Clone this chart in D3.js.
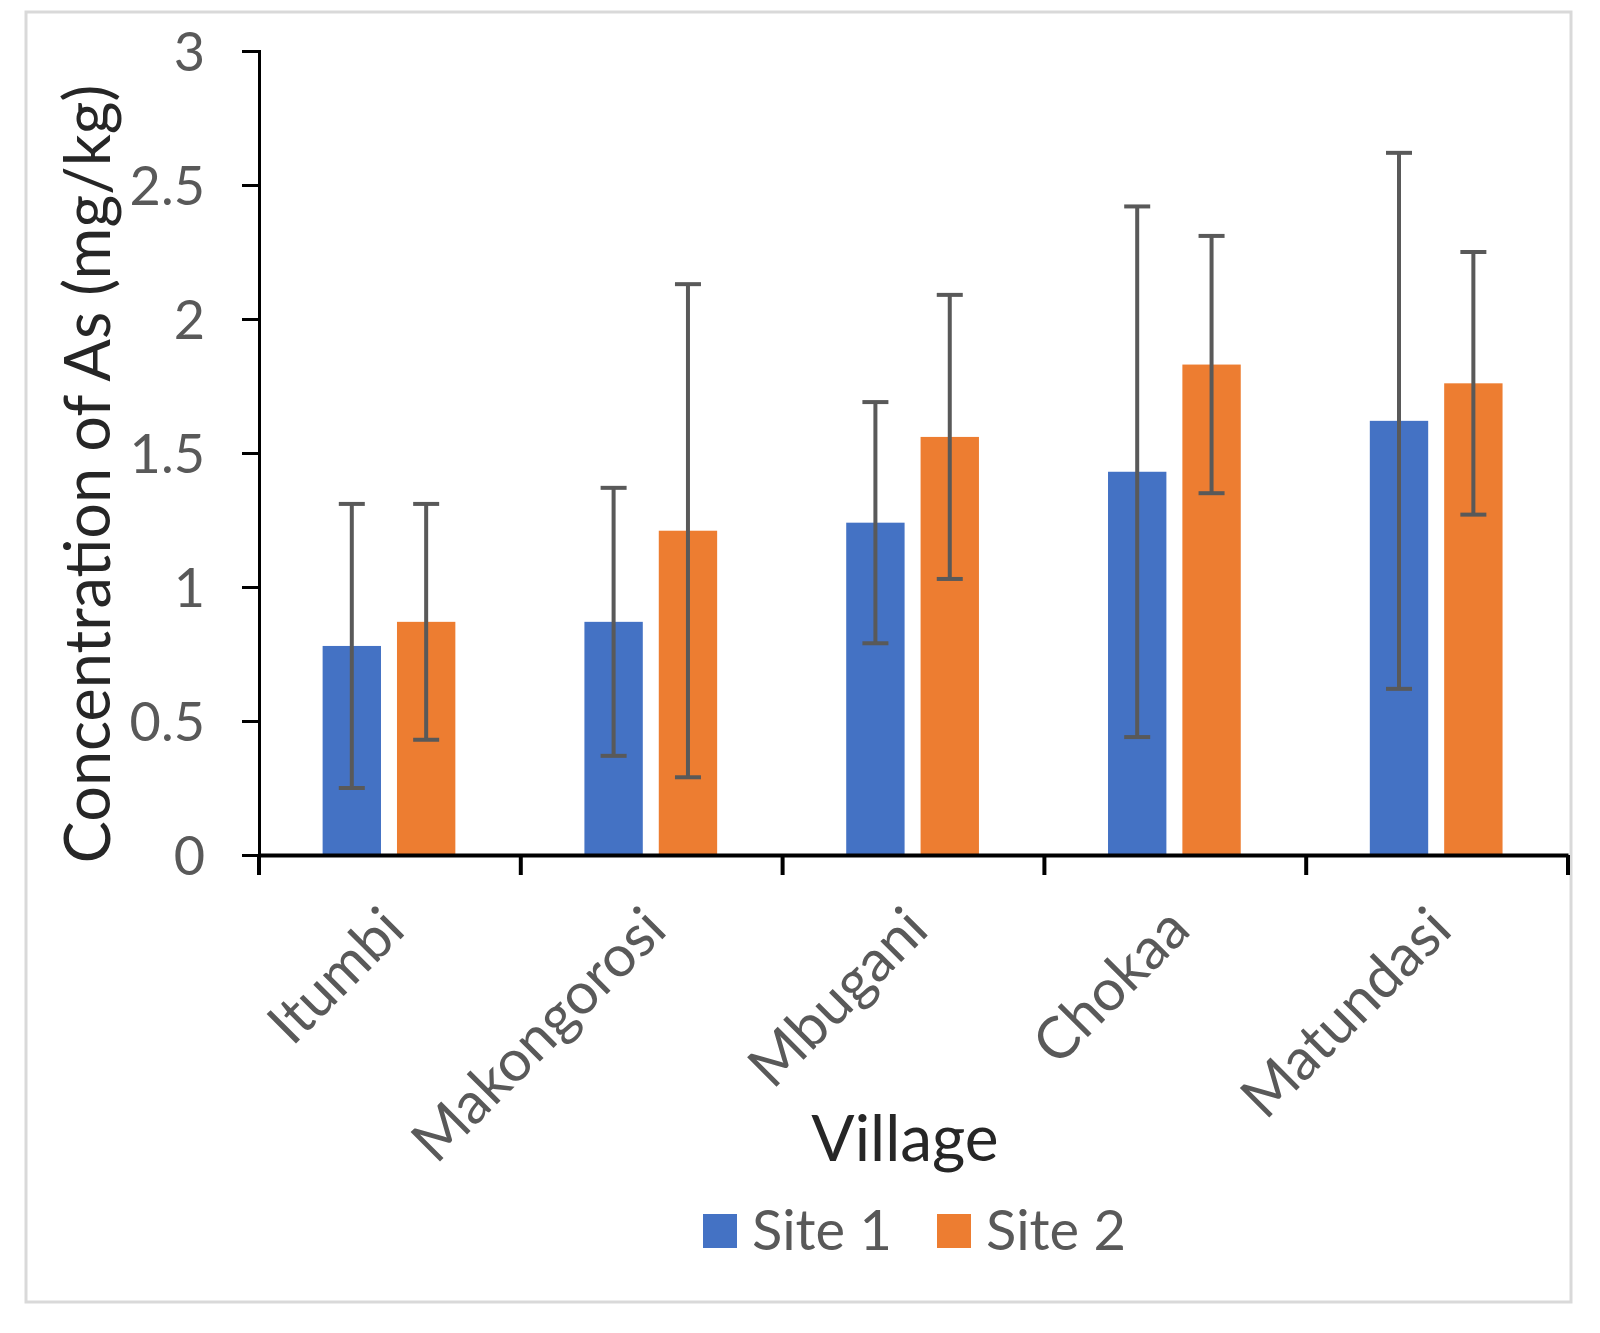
<!DOCTYPE html>
<html>
<head>
<meta charset="utf-8">
<script src="https://cdn.jsdelivr.net/npm/d3@7"></script>
<style>
  body { margin: 0; background: #fff; }
  text { font-family: Lato, "Open Sans", sans-serif; }
</style>
</head>
<body>
<div id="chart"></div>
<script>
var villages = ["Itumbi", "Makongorosi", "Mbugani", "Chokaa", "Matundasi"];
var seriesNames = ["Site 1", "Site 2"];
var site1 = [0.78, 0.87, 1.24, 1.43, 1.62];
var site2 = [0.87, 1.21, 1.56, 1.83, 1.76];
var site1Err = [0.53, 0.50, 0.45, 0.99, 1.00];
var site2Err = [0.44, 0.92, 0.53, 0.48, 0.49];
var yTicks = [0, 0.5, 1, 1.5, 2, 2.5, 3];
var colors = ["#4472C4", "#ED7D31"];

var W = 1600, H = 1333;
var margin = {top: 51, right: 32, bottom: 478, left: 259};

var svg = d3.select("#chart").append("svg")
    .attr("width", W)
    .attr("height", H);

// outer frame
svg.append("rect")
    .attr("x", 26).attr("y", 12)
    .attr("width", 1545).attr("height", 1290)
    .attr("fill", "none")
    .attr("stroke", "#d9d9d9")
    .attr("stroke-width", 3);

var xScale = d3.scaleBand()
    .domain(villages)
    .range([margin.left, W - margin.right]);

var bw = xScale.bandwidth();
var xSub = d3.scaleBand()
    .domain(seriesNames)
    .range([bw * 0.243, bw * 0.75])
    .paddingInner(0.215);

var yScale = d3.scaleLinear()
    .domain([0, 3])
    .range([855, 51]);

var rows = [];
villages.forEach(function(v, i) {
    rows.push({v: v, s: "Site 1", val: site1[i], err: site1Err[i], c: colors[0]});
    rows.push({v: v, s: "Site 2", val: site2[i], err: site2Err[i], c: colors[1]});
});

// bars
svg.append("g").selectAll("rect")
    .data(rows)
    .enter().append("rect")
    .attr("x", d => xScale(d.v) + xSub(d.s))
    .attr("width", xSub.bandwidth())
    .attr("y", d => yScale(d.val))
    .attr("height", d => yScale(0) - yScale(d.val))
    .attr("fill", d => d.c);

// error bars
var eg = svg.append("g").attr("stroke", "#595959").attr("stroke-width", 4);
rows.forEach(function(d) {
    var cx = xScale(d.v) + xSub(d.s) + xSub.bandwidth() / 2;
    var hi = yScale(d.val + d.err), lo = yScale(d.val - d.err);
    eg.append("line").attr("x1", cx).attr("x2", cx).attr("y1", hi).attr("y2", lo);
    eg.append("line").attr("x1", cx - 13).attr("x2", cx + 13).attr("y1", hi).attr("y2", hi);
    eg.append("line").attr("x1", cx - 13).attr("x2", cx + 13).attr("y1", lo).attr("y2", lo);
});

// y axis
var yAxis = svg.append("g")
    .attr("transform", `translate(${margin.left},0)`)
    .call(d3.axisLeft(yScale).tickValues(yTicks).tickSize(17).tickPadding(37).tickFormat(d3.format("")));
yAxis.select(".domain").attr("stroke", "#000").attr("stroke-width", 3);
yAxis.selectAll(".tick line").attr("stroke", "#000").attr("stroke-width", 3);
yAxis.selectAll("text")
    .attr("font-size", 54)
    .attr("font-family", "Lato")
    .attr("fill", "#595959")
    .attr("dy", "0.36em");

// x axis
var xAxis = svg.append("g")
    .attr("transform", `translate(0,${yScale(0)})`)
    .call(d3.axisBottom(xScale).tickSize(0).tickFormat(""));
xAxis.select(".domain").attr("stroke", "#000").attr("stroke-width", 4);
var xt = svg.append("g").attr("stroke", "#000").attr("stroke-width", 4);
villages.concat([null]).forEach(function(v, i) {
    var x = v ? xScale(v) : xScale.range()[1];
    xt.append("line").attr("x1", x).attr("x2", x).attr("y1", yScale(0)).attr("y2", yScale(0) + 20);
});

// x labels
svg.append("g").selectAll("text")
    .data(villages)
    .enter().append("text")
    .attr("transform", d => `translate(${xScale(d) + bw / 2 + 3},918) rotate(-45)`)
    .attr("text-anchor", "end")
    .attr("dy", "0.35em")
    .attr("font-size", 58)
    .attr("fill", "#595959")
    .text(d => d);

// axis titles
svg.append("text")
    .attr("transform", `translate(110,474) rotate(-90)`)
    .attr("text-anchor", "middle")
    .attr("font-size", 63)
    .attr("fill", "#262626")
    .text("Concentration of As (mg/kg)");

svg.append("text")
    .attr("x", 905).attr("y", 1161)
    .attr("text-anchor", "middle")
    .attr("font-size", 64)
    .attr("fill", "#262626")
    .text("Village");

// legend
var leg = svg.append("g");
var legX = [703, 937];
seriesNames.forEach(function(s, i) {
    leg.append("rect")
        .attr("x", legX[i]).attr("y", 1214)
        .attr("width", 34).attr("height", 34)
        .attr("fill", colors[i]);
    leg.append("text")
        .attr("x", legX[i] + 49).attr("y", 1250)
        .attr("font-size", 56)
        .attr("fill", "#595959")
        .text(s);
});
</script>
</body>
</html>
